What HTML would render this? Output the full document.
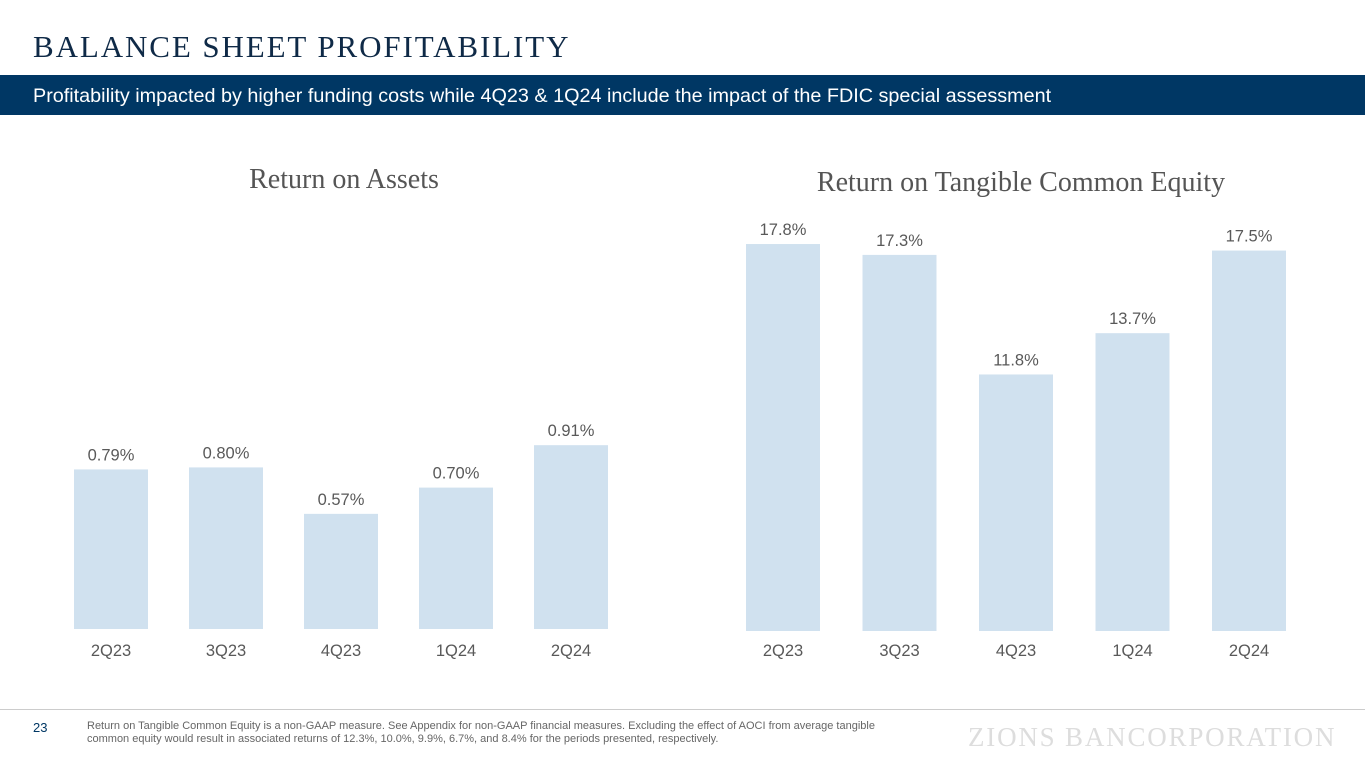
<!DOCTYPE html>
<html><head><meta charset="utf-8"><style>
body{margin:0;width:1365px;height:768px;overflow:hidden;background:#fff;font-family:"Liberation Sans",sans-serif;position:relative}
.abs{position:absolute}
</style></head><body>
<div class="abs" style="left:33px;top:29px;font-family:'Liberation Serif',serif;font-size:31px;color:#0f2a47;letter-spacing:1.9px;white-space:nowrap">BALANCE SHEET PROFITABILITY</div>
<div class="abs" style="left:0;top:75px;width:1365px;height:40px;background:#003764;color:#fff;font-size:19.8px;line-height:42px;white-space:nowrap"><span style="padding-left:33px">Profitability impacted by higher funding costs while 4Q23 &amp; 1Q24 include the impact of the FDIC special assessment</span></div>
<svg class="abs" style="left:0;top:0" width="1365" height="768">
<text x="344" y="188" text-anchor="middle" font-family="Liberation Serif,serif" font-size="28" fill="#555">Return on Assets</text>
<text x="1021" y="191" text-anchor="middle" font-family="Liberation Serif,serif" font-size="28" fill="#555">Return on Tangible Common Equity</text>
<g id="roa"></g><g id="rotce"></g>
</svg>
<div class="abs" style="left:0;top:709px;width:1365px;height:1px;background:#ccc"></div>
<div class="abs" style="left:33px;top:720px;font-size:13px;color:#003764">23</div>
<div class="abs" style="left:87px;top:720px;width:830px;font-size:11px;line-height:13px;color:#666">Return on Tangible Common Equity is a non-GAAP measure. See Appendix for non-GAAP financial measures. Excluding the effect of AOCI from average tangible common equity would result in associated returns of 12.3%, 10.0%, 9.9%, 6.7%, and 8.4% for the periods presented, respectively.</div>
<div class="abs" style="left:968px;top:722px;font-family:'Liberation Serif',serif;font-size:27px;color:#ddd;letter-spacing:1.8px;white-space:nowrap">ZIONS BANCORPORATION</div>
<script>
const categories=["2Q23","3Q23","4Q23","1Q24","2Q24"];
const roaValues=[0.79,0.80,0.57,0.70,0.91];
const roaLabels=["0.79%","0.80%","0.57%","0.70%","0.91%"];
const rotceValues=[17.8,17.3,11.8,13.7,17.5];
const rotceLabels=["17.8%","17.3%","11.8%","13.7%","17.5%"];
const NS="http://www.w3.org/2000/svg";
function draw(gid,vals,labels,x0,step,base,scale,prefix){
  const g=document.getElementById(gid);
  const x=i=>x0+i*step, y=v=>base-v*scale;
  vals.forEach((v,i)=>{
    const r=document.createElementNS(NS,"rect");
    r.setAttribute("x",x(i)-37);r.setAttribute("y",y(v));r.setAttribute("width",74);r.setAttribute("height",base-y(v));r.setAttribute("fill","#d0e1ef");
    
    
    g.appendChild(r);
    const t=document.createElementNS(NS,"text");
    t.setAttribute("x",x(i));t.setAttribute("y",y(v)-9);t.setAttribute("text-anchor","middle");t.setAttribute("font-size","16.5");t.setAttribute("fill","#595959");
    t.textContent=labels[i];
    
    
    g.appendChild(t);
    const c=document.createElementNS(NS,"text");
    c.setAttribute("x",x(i));c.setAttribute("y",656);c.setAttribute("text-anchor","middle");c.setAttribute("font-size","16.5");c.setAttribute("fill","#595959");
    c.textContent=categories[i];
    
    
    g.appendChild(c);
  });
}
draw("roa",roaValues,roaLabels,111,115,629,202,"roa");
draw("rotce",rotceValues,rotceLabels,783,116.5,631,21.74,"rotce");
</script>
</body></html>
